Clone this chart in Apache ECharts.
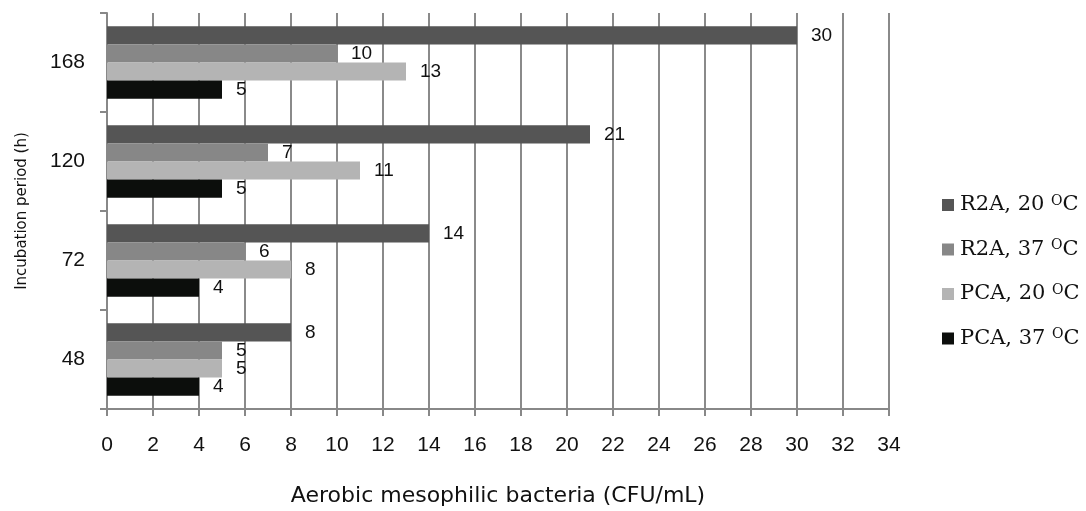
<!DOCTYPE html>
<html><head><meta charset="utf-8">
<script src="https://cdn.jsdelivr.net/npm/echarts@6/dist/echarts.min.js"></script>
<style>html,body{margin:0;padding:0;background:#fff}#c{width:1086px;height:511px}</style>
</head><body><div id="c"></div>
<script>
var categories = ['168', '120', '72', '48'];
var seriesNames = ['R2A, 20 °C', 'R2A, 37 °C', 'PCA, 20 °C', 'PCA, 37 °C'];
var r2a20 = [30, 21, 14, 8];
var r2a37 = [10, 7, 6, 5];
var pca20 = [13, 11, 8, 5];
var pca37 = [5, 5, 4, 4];
var colors = ['#555555', '#878787', '#b4b4b4', '#0c0e0c'];
var xTicks = [0, 34, 2];

var values = [r2a20, r2a37, pca20, pca37];
var chart = echarts.init(document.getElementById('c'));
var series = seriesNames.map(function (n, i) {
  return {
    name: n, type: 'bar', data: values[i],
    barGap: '0%', barCategoryGap: '27%',
    itemStyle: { color: colors[i] },
    label: { show: true, position: 'right', distance: 14, color: '#111',
      fontFamily: 'Liberation Sans', fontSize: 19 }
  };
});
chart.setOption({
  animation: false,
  backgroundColor: '#fff',
  grid: { left: 107, right: 197, top: 13, bottom: 102, outerBoundsMode: 'none', containLabel: false },
  legend: {
    orient: 'vertical', left: 937, top: 189, itemGap: 23,
    data: seriesNames, itemWidth: 12, itemHeight: 12, icon: 'rect',
    formatter: function (n) { return '{a|' + n.replace(' °C', ' ') + '}{s|O}{a|C}'; },
    textStyle: { padding: [0, 0, 0, 1], rich: {
      a: { fontFamily: 'DejaVu Serif', fontSize: 21, color: '#111', height: 22 },
      s: { fontFamily: 'DejaVu Serif', fontSize: 14, color: '#111', verticalAlign: 'top', height: 22, padding: [0, 0, 8, 0] }
    } }
  },
  xAxis: {
    type: 'value', min: xTicks[0], max: xTicks[1], interval: xTicks[2],
    name: 'Aerobic mesophilic bacteria (CFU/mL)', nameLocation: 'middle', nameGap: 76,
    nameTextStyle: { fontFamily: 'DejaVu Sans', fontSize: 22, color: '#111' },
    axisLine: { show: true, lineStyle: { color: '#888', width: 2 } },
    axisTick: { show: true, length: 7, lineStyle: { color: '#888', width: 2 } },
    axisLabel: { fontFamily: 'Liberation Sans', fontSize: 21, color: '#111', margin: 26 },
    splitLine: { show: true, lineStyle: { color: '#8a8a8a', width: 2 } }
  },
  yAxis: {
    type: 'category', data: categories, inverse: true,
    name: 'Incubation period (h)', nameLocation: 'middle', nameGap: 77, nameRotate: 90,
    nameTextStyle: { fontFamily: 'DejaVu Sans', fontSize: 15, color: '#111' },
    axisLine: { show: true, lineStyle: { color: '#888', width: 2 } },
    axisTick: { show: true, length: 7, lineStyle: { color: '#888', width: 2 } },
    axisLabel: { fontFamily: 'Liberation Sans', fontSize: 21, color: '#111', margin: 22 }
  },
  series: series
});
</script></body></html>
